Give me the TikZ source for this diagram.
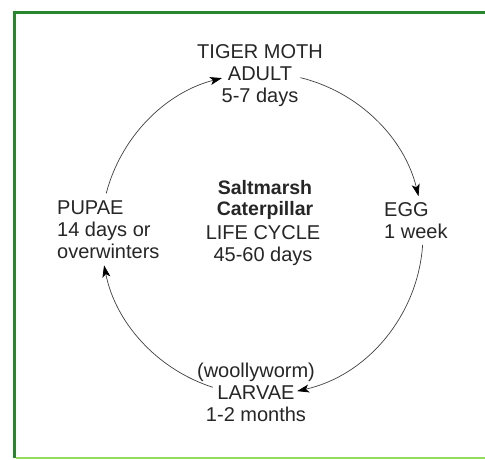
\documentclass[tikz,border=0pt]{standalone}
\usepackage{fontspec}
\setmainfont{Liberation Sans}
\usetikzlibrary{arrows.meta}
\definecolor{framegreen}{RGB}{40,135,45}
\definecolor{lightgreen}{RGB}{150,220,90}
\tikzset{
  lbl/.style={font=\fontsize{20}{22}\selectfont, inner sep=0pt, text=black!85},
  cyc/.style={draw=black!75, line width=0.7pt, -{Stealth[length=12pt,width=8pt,inset=3pt,fill=black,color=black]}},
}
\begin{document}
\begin{tikzpicture}[x=1pt,y=1pt]
\useasboundingbox (0,0) rectangle (485,460);
\fill[white] (0,0) rectangle (485,460);
% frame
\draw[framegreen, line width=3pt] (485,447.5) -- (14,447.5) -- (14,1.5);
\draw[lightgreen, line width=2pt] (15.5,1.5) -- (485,1.5);
% labels
\node[lbl, align=center] (adult) at (260,384) {TIGER MOTH\\ADULT\\5-7 days};
\node[lbl, align=left, anchor=west] (egg) at (384,239) {EGG\\1 week};
\node[lbl, align=left, anchor=west] (pupae) at (57,230) {PUPAE\\14 days or\\overwinters};
\node[lbl, align=center, font=\fontsize{19.5}{21}\selectfont\bfseries] (title) at (265,260) {Saltmarsh\\Caterpillar};
\node[lbl, align=center] (cycle) at (263,214) {LIFE CYCLE\\45-60 days};
\node[lbl, align=center] (larvae) at (256,68) {(woollyworm)\\LARVAE\\1-2 months};
% circle arcs
\coordinate (c) at (262,226);
\draw[cyc] (c) ++(76.2:161) arc[start angle=76.2, end angle=13.6, radius=161];
\draw[cyc] (c) ++(-3.9:161) arc[start angle=-3.9, end angle=-77.4, radius=161];
\draw[cyc] (c) ++(252.2:161) arc[start angle=252.2, end angle=191.2, radius=161];
\draw[cyc] (c) ++(165.4:161) arc[start angle=165.4, end angle=104.4, radius=161];
\end{tikzpicture}
\end{document}
